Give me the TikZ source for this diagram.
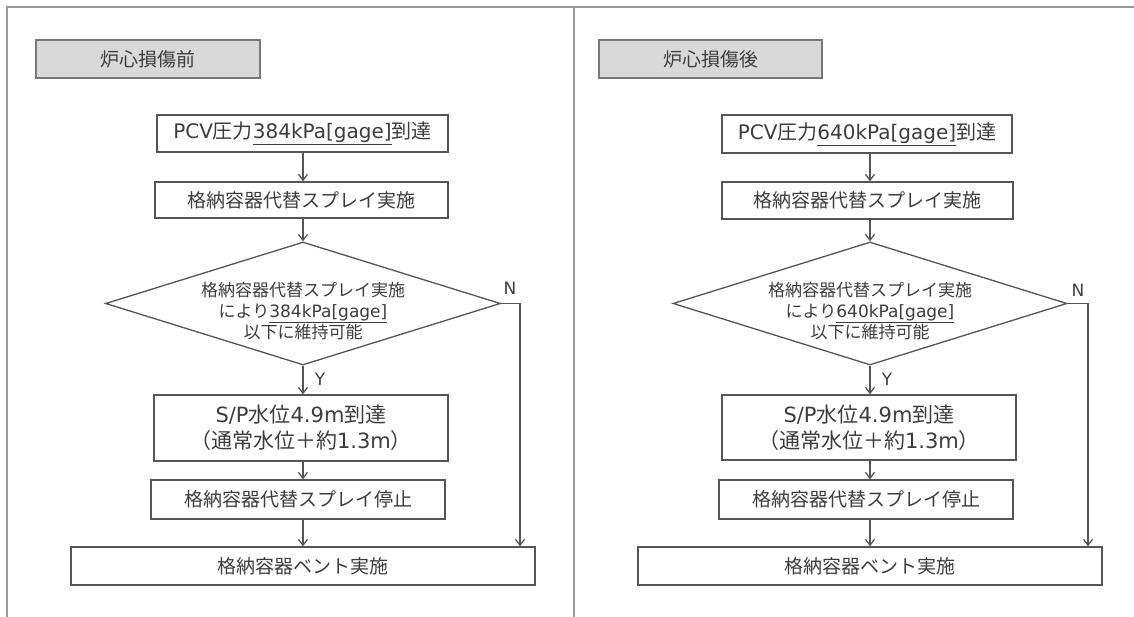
\documentclass[tikz,border=0pt]{standalone}
\usepackage{fontspec}
\setmainfont{DejaVu Sans}
\newfontfamily\jp{Noto Sans CJK JP}
\usetikzlibrary{shapes.geometric,arrows.meta}
\definecolor{txtc}{HTML}{3C3C3C}
\definecolor{lnc}{HTML}{555555}
\definecolor{frmc}{HTML}{9A9A9A}
\definecolor{hdrc}{HTML}{D9D9D9}
\newcommand\J[1]{{\jp #1}}
\begin{document}
\begin{tikzpicture}[x=1pt,y=-1pt,
  flowbox/.style={draw=lnc, line width=1.3pt, rectangle, inner sep=0pt, text=txtc,
    align=center, font=\fontsize{19}{23}\selectfont},
  hdrbox/.style={flowbox, fill=hdrc, draw=lnc!80},
  decbox/.style={draw=lnc, line width=1.3pt, diamond, inner sep=0pt, aspect=3.2},
  dectext/.style={text=txtc, align=center, font=\fontsize{17}{21}\selectfont, inner sep=0pt},
  lbl/.style={text=txtc, font=\fontsize{17}{20}\selectfont, inner sep=0pt},
  arr/.style={draw=lnc, line width=1.3pt, -{Straight Barb[length=6pt,width=9pt,line width=1.3pt]}},
  frame/.style={draw=frmc, line width=2pt}]
\useasboundingbox (0,0) rectangle (1134,617);
% frame
\coordinate (f1) at (7,7);
\coordinate (f2) at (1134,7);
\coordinate (f3) at (7,617);
\coordinate (f4) at (574,7);
\coordinate (f5) at (574,617);
\draw[frame] (f3) -- (f1) -- (f2);
\draw[frame] (f4) -- (f5);
% columns
\coordinate (colL) at (303,0);
\coordinate (colR) at (870,0);
\coordinate (nL) at (520,0);
\coordinate (nR) at (1088,0);
% ---------- left panel ----------
\node[hdrbox, minimum width=224pt, minimum height=38pt] (hL) at (148,59) {\J{炉心損傷前}};
\node[flowbox, minimum width=291pt, minimum height=37pt, font=\fontsize{20}{24}\selectfont] (b1L) at (302.5,133.5)
  {PCV\J{圧力}\underline{384kPa[gage]}\J{到達}};
\node[flowbox, minimum width=293pt, minimum height=36pt] (b2L) at (301.5,200) {\J{格納容器代替スプレイ実施}};
\node[decbox, minimum width=395pt, minimum height=123pt] (dL) at (303,303.5) {};
\node[dectext] (dtL) at (303,311) {\J{格納容器代替スプレイ実施}\\\J{により}\underline{384kPa[gage]}\\\J{以下に維持可能}};
\node[flowbox, minimum width=294pt, minimum height=66pt, font=\fontsize{21}{26}\selectfont] (b3L) at (301,428)
  {S/P\J{水位}4.9m\J{到達}\\\J{（通常水位＋約}1.3m\J{）}};
\node[flowbox, minimum width=294pt, minimum height=39pt] (b4L) at (298,499.5) {\J{格納容器代替スプレイ停止}};
\node[flowbox, minimum width=464pt, minimum height=38pt] (b5L) at (303,566) {\J{格納容器ベント実施}};
\node[lbl] (NL) at (510,288) {N};
\node[lbl] (YL) at (320,379) {Y};
\draw[arr] (b1L.south -| colL) -- (b2L.north -| colL);
\draw[arr] (b2L.south -| colL) -- (dL.north);
\draw[arr] (dL.south) -- (b3L.north -| dL.south);
\draw[arr] (b3L.south -| colL) -- (b4L.north -| colL);
\draw[arr] (b4L.south -| colL) -- (b5L.north -| colL);
\draw[arr] (dL.east) -- (dL.east -| nL) -- (b5L.north -| nL);
% ---------- right panel ----------
\node[hdrbox, minimum width=223pt, minimum height=38pt] (hR) at (710.5,59) {\J{炉心損傷後}};
\node[flowbox, minimum width=290pt, minimum height=38pt, font=\fontsize{20}{24}\selectfont] (b1R) at (867,134)
  {PCV\J{圧力}\underline{640kPa[gage]}\J{到達}};
\node[flowbox, minimum width=291pt, minimum height=37pt] (b2R) at (867.5,200.5) {\J{格納容器代替スプレイ実施}};
\node[decbox, minimum width=394pt, minimum height=123pt] (dR) at (870,303.5) {};
\node[dectext] (dtR) at (870,311) {\J{格納容器代替スプレイ実施}\\\J{により}\underline{640kPa[gage]}\\\J{以下に維持可能}};
\node[flowbox, minimum width=294pt, minimum height=65pt, font=\fontsize{21}{26}\selectfont] (b3R) at (869,427.5)
  {S/P\J{水位}4.9m\J{到達}\\\J{（通常水位＋約}1.3m\J{）}};
\node[flowbox, minimum width=294pt, minimum height=39pt] (b4R) at (866,499.5) {\J{格納容器代替スプレイ停止}};
\node[flowbox, minimum width=464pt, minimum height=38pt] (b5R) at (870,566) {\J{格納容器ベント実施}};
\node[lbl] (NR) at (1078,290) {N};
\node[lbl] (YR) at (887,379) {Y};
\draw[arr] (b1R.south -| colR) -- (b2R.north -| colR);
\draw[arr] (b2R.south -| colR) -- (dR.north);
\draw[arr] (dR.south) -- (b3R.north -| dR.south);
\draw[arr] (b3R.south -| colR) -- (b4R.north -| colR);
\draw[arr] (b4R.south -| colR) -- (b5R.north -| colR);
\draw[arr] (dR.east) -- (dR.east -| nR) -- (b5R.north -| nR);
\end{tikzpicture}
\end{document}
